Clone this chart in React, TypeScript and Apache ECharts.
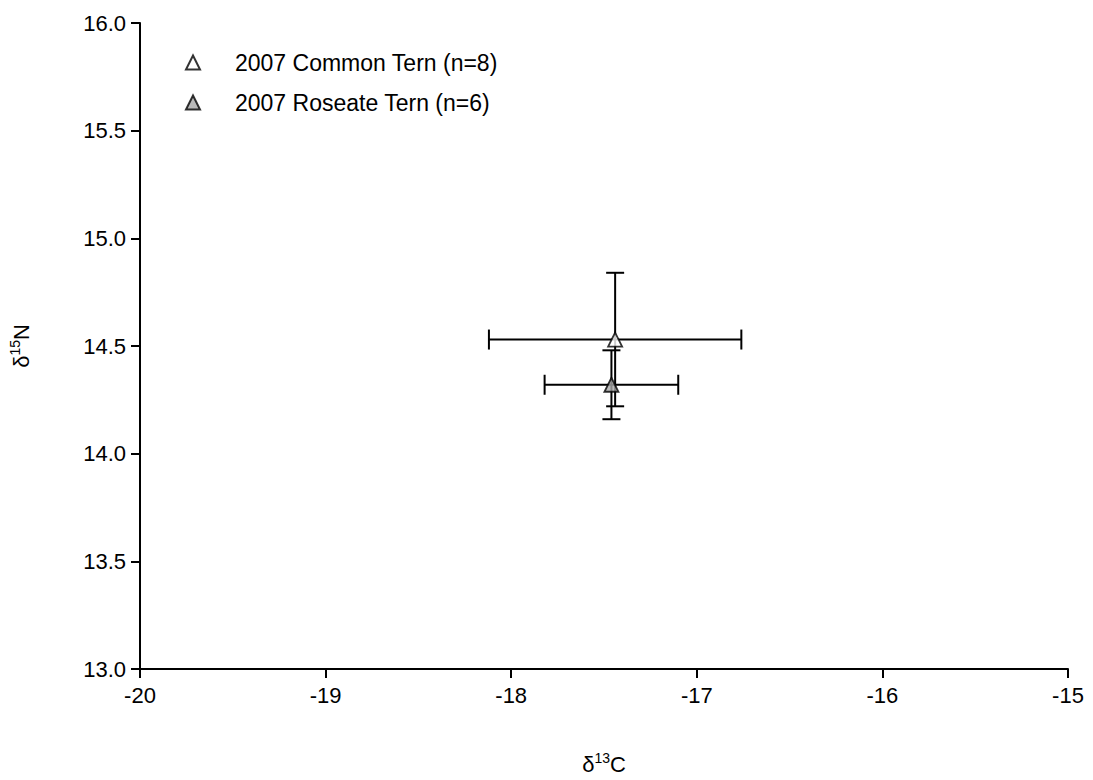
import React, { useEffect, useRef } from "react";
import * as echarts from "echarts";

const seriesNames = ["2007 Common Tern (n=8)", "2007 Roseate Tern (n=6)"];
const meanC = [-17.44, -17.46];
const meanN = [14.53, 14.32];
const sdC = [0.68, 0.36];
const sdN = [0.31, 0.16];
const fills = ["#ffffff", "#a8a8a8"];

const FONT = '"Liberation Sans", Arial, sans-serif';

export default function App() {
  const ref = useRef<HTMLDivElement>(null);
  useEffect(() => {
    document.body.style.margin = "0";
    const chart = echarts.init(ref.current!, null, { renderer: "svg" });
    const series: any[] = [];
    seriesNames.forEach((name, i) => {
      series.push({
        type: "custom",
        name: name + " err",
        clip: false,
        z: 2 + i * 2,
        data: [[meanC[i], meanN[i], sdC[i], sdN[i]]],
        encode: { x: 0, y: 1 },
        renderItem: (params: any, api: any) => {
          const x = api.value(0);
          const y = api.value(1);
          const ex = api.value(2);
          const ey = api.value(3);
          const l = api.coord([x - ex, y]);
          const r = api.coord([x + ex, y]);
          const t = api.coord([x, y + ey]);
          const b = api.coord([x, y - ey]);
          const st = { stroke: "#000", lineWidth: 2 };
          const cap = 10;
          return {
            type: "group",
            children: [
              { type: "line", shape: { x1: l[0], y1: l[1], x2: r[0], y2: r[1] }, style: st },
              { type: "line", shape: { x1: l[0], y1: l[1] - cap, x2: l[0], y2: l[1] + cap }, style: st },
              { type: "line", shape: { x1: r[0], y1: r[1] - cap, x2: r[0], y2: r[1] + cap }, style: st },
              { type: "line", shape: { x1: t[0], y1: t[1], x2: b[0], y2: b[1] }, style: st },
              { type: "line", shape: { x1: t[0] - 9, y1: t[1], x2: t[0] + 9, y2: t[1] }, style: st },
              { type: "line", shape: { x1: b[0] - 9, y1: b[1], x2: b[0] + 9, y2: b[1] }, style: st },
            ],
          };
        },
      });
      series.push({
        type: "scatter",
        name,
        z: 3 + i * 2,
        symbol: "triangle",
        symbolSize: 14,
        data: [[meanC[i], meanN[i]]],
        itemStyle: { color: fills[i], borderColor: "#000", borderWidth: 1.8 },
      });
    });

    const rich = {
      d: { fontSize: 22, fontFamily: FONT, color: "#000" },
      s: { fontSize: 14, fontFamily: FONT, color: "#000", padding: [0, 0, 12, 0] },
    };

    chart.setOption({
      animation: false,
      backgroundColor: "#fff",
      textStyle: { fontFamily: FONT, color: "#000" },
      grid: { left: 139, right: 25, top: 23, bottom: 108, containLabel: false },
      legend: {
        data: seriesNames,
        orient: "vertical",
        left: 180,
        top: 46,
        itemWidth: 14,
        itemHeight: 14,
        itemGap: 17,
        icon: "triangle",
        textStyle: { fontFamily: FONT, fontSize: 23, color: "#000", padding: [0, 0, 0, 30] },
        selectedMode: false,
      },
      xAxis: {
        type: "value",
        min: -20,
        max: -15,
        interval: 1,
        name: "{d|δ}{s|13}{d|C}",
        nameLocation: "middle",
        nameGap: 82,
        nameTextStyle: { rich },
        axisLine: { show: true, onZero: false, lineStyle: { color: "#000", width: 2 } },
        axisTick: { show: true, inside: false, length: 9, lineStyle: { color: "#000", width: 2 } },
        axisLabel: { fontSize: 22, color: "#000", fontFamily: FONT, margin: 15 },
        splitLine: { show: false },
      },
      yAxis: {
        type: "value",
        min: 13,
        max: 16,
        interval: 0.5,
        name: "{d|δ}{s|15}{d|N}",
        nameLocation: "middle",
        nameGap: 106,
        nameRotate: 90,
        nameTextStyle: { rich },
        axisLine: { show: true, onZero: false, lineStyle: { color: "#000", width: 2 } },
        axisTick: { show: true, inside: false, length: 9, lineStyle: { color: "#000", width: 2 } },
        axisLabel: {
          fontSize: 22,
          color: "#000",
          fontFamily: FONT,
          margin: 14,
          formatter: (v: number) => v.toFixed(1),
        },
        splitLine: { show: false },
      },
      series,
    });
    return () => chart.dispose();
  }, []);
  return <div ref={ref} style={{ width: 1093, height: 780 }} />;
}
